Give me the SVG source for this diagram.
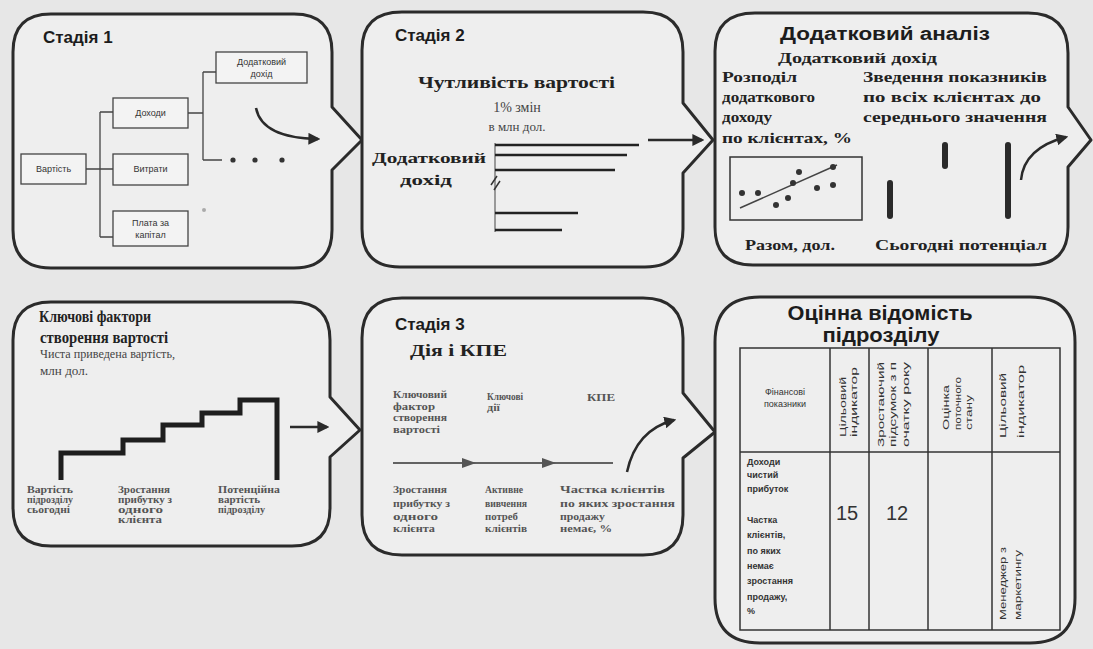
<svg xmlns="http://www.w3.org/2000/svg" width="1093" height="649" viewBox="0 0 1093 649">
<style>
.panel{fill:#eeeeee;stroke:#2b2b2b;stroke-width:3;stroke-linejoin:round}
.h{font-family:"Liberation Sans",Arial,sans-serif;font-weight:bold;fill:#1c1c1c}
.s{font-family:"Liberation Serif","Times New Roman",serif;font-weight:bold;fill:#222}
.sr{font-family:"Liberation Serif","Times New Roman",serif;fill:#444}
.sm{font-family:"Liberation Sans",Arial,sans-serif;font-size:9px;fill:#333}
.tiny{font-family:"Liberation Serif","Times New Roman",serif;font-weight:bold;font-size:9.5px;fill:#555}
.box{fill:#f3f3f3;stroke:#444;stroke-width:1.3}
.ln{stroke:#444;stroke-width:1.3;fill:none}
.bar{stroke:#222;stroke-width:2.5;fill:none}
.cbar{stroke:#2a2a2a;stroke-width:6;stroke-linecap:round;fill:none}
.arr{stroke:#2a2a2a;stroke-width:2.5;fill:none}
.tb{fill:none;stroke:#333;stroke-width:1.5}
.dot{fill:#333}
</style>
<defs>
<marker id="ah" viewBox="0 0 10 10" refX="8" refY="5" markerWidth="12" markerHeight="12" markerUnits="userSpaceOnUse" orient="auto">
<path d="M0,0 L10,5 L0,10 Z" fill="#2a2a2a"/>
</marker>
</defs>
<rect width="1093" height="649" fill="#e7e7e7"/>

<g id="panel-stage1">
<path class="panel" d="M51 14 H294 Q332 14 332 52 V107 L362 140 L332 170 V230 Q332 268 294 268 H51 Q13 268 13 230 V52 Q13 14 51 14 Z"/>
<text class="h" x="43" y="43" font-size="17">Стадія 1</text>
<rect class="box" x="21" y="154" width="65" height="30"/>
<text class="sm" x="53.5" y="172" text-anchor="middle">Вартість</text>
<rect class="box" x="113" y="98" width="75" height="30"/>
<text class="sm" x="150.5" y="116" text-anchor="middle">Доходи</text>
<rect class="box" x="113" y="154" width="75" height="31"/>
<text class="sm" x="150.5" y="172" text-anchor="middle">Витрати</text>
<rect class="box" x="113" y="211" width="75" height="35"/>
<text class="sm" x="150.5" y="226" text-anchor="middle">Плата за</text>
<text class="sm" x="150.5" y="238" text-anchor="middle">капітал</text>
<rect class="box" x="216" y="52" width="91" height="31"/>
<text class="sm" x="261.5" y="65" text-anchor="middle" font-size="8">Додатковий</text>
<text class="sm" x="261.5" y="77" text-anchor="middle" font-size="8">дохід</text>
<circle cx="204" cy="210" r="2" fill="#aaaaaa"/>
</g>

<g id="panel-stage2">
<path class="panel" d="M402 12 H643 Q683 12 683 52 V103 L713 140 L683 173 V229 Q683 267 645 267 H400 Q362 267 362 229 V50 Q362 12 402 12 Z"/>
<text class="h" x="395" y="41" font-size="17">Стадія 2</text>
<text class="s" x="418" y="88" font-size="16" textLength="197" lengthAdjust="spacingAndGlyphs">Чутливість вартості</text>
<text class="sr" x="517" y="112" font-size="14" text-anchor="middle" fill="#555">1% змін</text>
<text class="sr" x="517" y="131" font-size="13" text-anchor="middle" fill="#555">в млн дол.</text>
<text class="s" x="372" y="163" font-size="14" textLength="114" lengthAdjust="spacingAndGlyphs">Додатковий</text>
<text class="s" x="400" y="185" font-size="14" textLength="52" lengthAdjust="spacingAndGlyphs">дохід</text>
<line x1="495" y1="143" x2="495" y2="232" stroke="#999" stroke-width="2"/>
<line class="bar" x1="495" y1="145" x2="639" y2="145"/>
<line class="bar" x1="495" y1="155" x2="627" y2="155"/>
<line class="bar" x1="495" y1="170" x2="615" y2="170"/>
<line class="bar" x1="495" y1="213" x2="578" y2="213"/>
<line class="bar" x1="495" y1="230" x2="562" y2="230"/>
<path d="M491 185 L497 176 M494 190 L500 181" stroke="#333" stroke-width="1.5" fill="none"/>
</g>

<g id="panel-analysis">
<path class="panel" d="M755 13 H1028 Q1068 13 1068 53 V107 L1091 140 L1068 167 V227 Q1068 265 1030 265 H753 Q715 265 715 227 V51 Q715 13 755 13 Z"/>
<text class="h" x="780" y="40" font-size="18" textLength="210" lengthAdjust="spacingAndGlyphs">Додатковий аналіз</text>
<text class="s" x="778" y="63" font-size="14" textLength="159" lengthAdjust="spacingAndGlyphs">Додатковий дохід</text>
<text class="s" x="722" y="82" font-size="14" textLength="75" lengthAdjust="spacingAndGlyphs">Розподіл</text>
<text class="s" x="722" y="102" font-size="14" textLength="93" lengthAdjust="spacingAndGlyphs">додаткового</text>
<text class="s" x="722" y="122" font-size="14" textLength="50" lengthAdjust="spacingAndGlyphs">доходу</text>
<text class="s" x="722" y="143" font-size="14" textLength="130" lengthAdjust="spacingAndGlyphs">по клієнтах, %</text>
<text class="s" x="863" y="82" font-size="14" textLength="184" lengthAdjust="spacingAndGlyphs">Зведення показників</text>
<text class="s" x="863" y="102" font-size="14" textLength="178" lengthAdjust="spacingAndGlyphs">по всіх клієнтах до</text>
<text class="s" x="863" y="122" font-size="14" textLength="184" lengthAdjust="spacingAndGlyphs">середнього значення</text>
<rect x="730" y="157" width="132" height="63" fill="none" stroke="#333" stroke-width="1.5"/>
<line x1="740" y1="208" x2="837" y2="165" stroke="#444" stroke-width="1.5"/>
<circle class="dot" cx="742" cy="193" r="3"/>
<circle class="dot" cx="758" cy="193" r="3"/>
<circle class="dot" cx="776" cy="205" r="3"/>
<circle class="dot" cx="788" cy="198" r="3"/>
<circle class="dot" cx="793" cy="183" r="3"/>
<circle class="dot" cx="799" cy="172" r="3"/>
<circle class="dot" cx="817" cy="188" r="3"/>
<circle class="dot" cx="833" cy="185" r="3"/>
<circle class="dot" cx="833" cy="167" r="3"/>
<line class="cbar" x1="890" y1="183" x2="890" y2="216"/>
<line class="cbar" x1="945" y1="145" x2="945" y2="166"/>
<line class="cbar" x1="1008" y1="145" x2="1008" y2="216"/>
<text class="s" x="745" y="250" font-size="14" fill="#666" textLength="90" lengthAdjust="spacingAndGlyphs">Разом, дол.</text>
<text class="s" x="875" y="250" font-size="14" textLength="172" lengthAdjust="spacingAndGlyphs">Сьогодні потенціал</text>
</g>

<g id="panel-drivers">
<path class="panel" d="M51 302 H292 Q330 302 330 340 V397 L360 430 L330 457 V508 Q330 546 292 546 H51 Q13 546 13 508 V340 Q13 302 51 302 Z"/>
<text class="s" x="39" y="322" font-size="16" textLength="112" lengthAdjust="spacingAndGlyphs">Ключові фактори</text>
<text class="s" x="40" y="343" font-size="16" textLength="128" lengthAdjust="spacingAndGlyphs">створення вартості</text>
<text class="sr" x="40" y="358" font-size="13" textLength="135" lengthAdjust="spacingAndGlyphs">Чиста приведена вартість,</text>
<text class="sr" x="40" y="375" font-size="13" textLength="48" lengthAdjust="spacingAndGlyphs">млн дол.</text>
<path d="M61 480 V453 H123 V440 H163 V425 H202 V413 H240 V400 H277 V480" fill="none" stroke="#1e1e1e" stroke-width="5" stroke-linejoin="miter"/>
<text class="tiny" x="27" y="493" textLength="46" lengthAdjust="spacingAndGlyphs">Вартість</text>
<text class="tiny" x="27" y="503" textLength="46" lengthAdjust="spacingAndGlyphs">підрозділу</text>
<text class="tiny" x="27" y="513" textLength="43" lengthAdjust="spacingAndGlyphs">сьогодні</text>
<text class="tiny" x="118" y="493" textLength="52" lengthAdjust="spacingAndGlyphs">Зростання</text>
<text class="tiny" x="118" y="503" textLength="54" lengthAdjust="spacingAndGlyphs">прибутку з</text>
<text class="tiny" x="118" y="513" textLength="45" lengthAdjust="spacingAndGlyphs">одного</text>
<text class="tiny" x="118" y="523" textLength="44" lengthAdjust="spacingAndGlyphs">клієнта</text>
<text class="tiny" x="218" y="493" textLength="62" lengthAdjust="spacingAndGlyphs">Потенційна</text>
<text class="tiny" x="218" y="503" textLength="42" lengthAdjust="spacingAndGlyphs">вартість</text>
<text class="tiny" x="218" y="513" textLength="47" lengthAdjust="spacingAndGlyphs">підрозділу</text>
</g>

<g id="panel-stage3">
<path class="panel" d="M402 298 H643 Q683 298 683 338 V393 L715 432 L683 458 V515 Q683 555 643 555 H402 Q362 555 362 515 V338 Q362 298 402 298 Z"/>
<text class="h" x="395" y="330" font-size="17">Стадія 3</text>
<text class="s" x="410" y="356" font-size="17" textLength="97" lengthAdjust="spacingAndGlyphs">Дія і КПЕ</text>
<text class="tiny" x="393" y="398" fill="#777" textLength="54" lengthAdjust="spacingAndGlyphs">Ключовий</text>
<text class="tiny" x="393" y="410" fill="#777" textLength="42" lengthAdjust="spacingAndGlyphs">фактор</text>
<text class="tiny" x="393" y="421" fill="#777" textLength="54" lengthAdjust="spacingAndGlyphs">створення</text>
<text class="tiny" x="393" y="433" fill="#777" textLength="47" lengthAdjust="spacingAndGlyphs">вартості</text>
<text class="tiny" x="487" y="400" fill="#777" textLength="36" lengthAdjust="spacingAndGlyphs">Ключові</text>
<text class="tiny" x="487" y="411" fill="#777" textLength="13" lengthAdjust="spacingAndGlyphs">дії</text>
<text class="tiny" x="587" y="401" fill="#777" textLength="28" lengthAdjust="spacingAndGlyphs">КПЕ</text>
<line x1="393" y1="463" x2="613" y2="463" stroke="#333" stroke-width="1.5"/>
<path d="M462 458 L476 463 L462 468 Z" fill="#555"/>
<path d="M542 458 L556 463 L542 468 Z" fill="#555"/>
<text class="tiny" x="393" y="493" textLength="54" lengthAdjust="spacingAndGlyphs">Зростання</text>
<text class="tiny" x="393" y="507" textLength="57" lengthAdjust="spacingAndGlyphs">прибутку з</text>
<text class="tiny" x="393" y="520" textLength="45" lengthAdjust="spacingAndGlyphs">одного</text>
<text class="tiny" x="393" y="532" textLength="42" lengthAdjust="spacingAndGlyphs">клієнта</text>
<text class="tiny" x="485" y="493" textLength="38" lengthAdjust="spacingAndGlyphs">Активне</text>
<text class="tiny" x="485" y="507" textLength="42" lengthAdjust="spacingAndGlyphs">вивчення</text>
<text class="tiny" x="485" y="520" textLength="33" lengthAdjust="spacingAndGlyphs">потреб</text>
<text class="tiny" x="485" y="532" textLength="42" lengthAdjust="spacingAndGlyphs">клієнтів</text>
<text class="tiny" x="560" y="493" textLength="105" lengthAdjust="spacingAndGlyphs">Частка клієнтів</text>
<text class="tiny" x="560" y="507" textLength="115" lengthAdjust="spacingAndGlyphs">по яких зростання</text>
<text class="tiny" x="560" y="520" textLength="45" lengthAdjust="spacingAndGlyphs">продажу</text>
<text class="tiny" x="560" y="532" textLength="52" lengthAdjust="spacingAndGlyphs">немає, %</text>
</g>

<g id="panel-scorecard">
<path class="panel" d="M760 297 H1030 Q1075 297 1075 342 V598 Q1075 643 1030 643 H760 Q715 643 715 598 V342 Q715 297 760 297 Z"/>
<text class="h" x="880" y="320" font-size="20" text-anchor="middle" textLength="185" lengthAdjust="spacingAndGlyphs">Оцінна відомість</text>
<text class="h" x="881" y="342" font-size="20" text-anchor="middle" textLength="117" lengthAdjust="spacingAndGlyphs">підрозділу</text>
<rect class="tb" x="740" y="348" width="320" height="282"/>
<line class="tb" x1="830" y1="348" x2="830" y2="630"/>
<line class="tb" x1="869" y1="348" x2="869" y2="630" stroke-width="2.5"/>
<line class="tb" x1="928" y1="348" x2="928" y2="630"/>
<line class="tb" x1="992" y1="348" x2="992" y2="630"/>
<line class="tb" x1="740" y1="452" x2="1060" y2="452"/>
<text class="sm" x="785" y="395" text-anchor="middle" font-size="9">Фінансові</text>
<text class="sm" x="785" y="407" text-anchor="middle" font-size="9">показники</text>
<text class="sm" transform="translate(846 437) rotate(-90)" textLength="60" lengthAdjust="spacingAndGlyphs">Цільовий</text>
<text class="sm" transform="translate(857 437) rotate(-90)" textLength="70" lengthAdjust="spacingAndGlyphs">індикатор</text>
<text class="sm" transform="translate(884 447) rotate(-90)" textLength="85" lengthAdjust="spacingAndGlyphs">Зростаючий</text>
<text class="sm" transform="translate(896 447) rotate(-90)" textLength="85" lengthAdjust="spacingAndGlyphs">підсумок з п</text>
<text class="sm" transform="translate(909 447) rotate(-90)" textLength="85" lengthAdjust="spacingAndGlyphs">очатку року</text>
<text class="sm" transform="translate(949 430) rotate(-90)" fill="#888" textLength="45" lengthAdjust="spacingAndGlyphs">Оцінка</text>
<text class="sm" transform="translate(961 430) rotate(-90)" fill="#888" textLength="53" lengthAdjust="spacingAndGlyphs">поточного</text>
<text class="sm" transform="translate(972 430) rotate(-90)" fill="#888" textLength="35" lengthAdjust="spacingAndGlyphs">стану</text>
<text class="sm" transform="translate(1006 438) rotate(-90)" textLength="65" lengthAdjust="spacingAndGlyphs">Цільовий</text>
<text class="sm" transform="translate(1024 438) rotate(-90)" textLength="73" lengthAdjust="spacingAndGlyphs">індикатор</text>
<text class="sm" transform="translate(1006 620) rotate(-90)" textLength="73" lengthAdjust="spacingAndGlyphs">Менеджер з</text>
<text class="sm" transform="translate(1021 620) rotate(-90)" textLength="70" lengthAdjust="spacingAndGlyphs">маркетингу</text>
<g class="sm" font-weight="bold" fill="#444">
<text x="747" y="465">Доходи</text>
<text x="747" y="478">чистий</text>
<text x="747" y="492">прибуток</text>
<text x="747" y="523">Частка</text>
<text x="747" y="538">клієнтів,</text>
<text x="747" y="554">по яких</text>
<text x="747" y="569">немає</text>
<text x="747" y="584">зростання</text>
<text x="747" y="600">продажу,</text>
<text x="747" y="614">%</text>
</g>
<text x="847" y="520" font-family="Liberation Sans, Arial, sans-serif" font-size="20" fill="#333" text-anchor="middle">15</text>
<text x="897" y="520" font-family="Liberation Sans, Arial, sans-serif" font-size="20" fill="#333" text-anchor="middle">12</text>
</g>

<g id="connectors">
<path class="ln" d="M86 169 H113 M100 112 V237 M100 112 H113 M100 237 H113"/>
<path class="ln" d="M188 113 H203 M203 72 V160 M203 72 H216 M203 160 H222"/>
<circle class="dot" cx="233" cy="160" r="2.6"/>
<circle class="dot" cx="255" cy="160" r="2.6"/>
<circle class="dot" cx="282" cy="160" r="2.6"/>
<path class="arr" d="M256 108 Q262 138 318 139" marker-end="url(#ah)"/>
<path class="arr" d="M648 140 H702" marker-end="url(#ah)"/>
<path class="arr" d="M1021 180 Q1024 148 1066 137" marker-end="url(#ah)"/>
<path class="arr" d="M290 427 H327" marker-end="url(#ah)"/>
<path class="arr" d="M627 472 Q636 430 674 420" marker-end="url(#ah)"/>
</g>
</svg>
